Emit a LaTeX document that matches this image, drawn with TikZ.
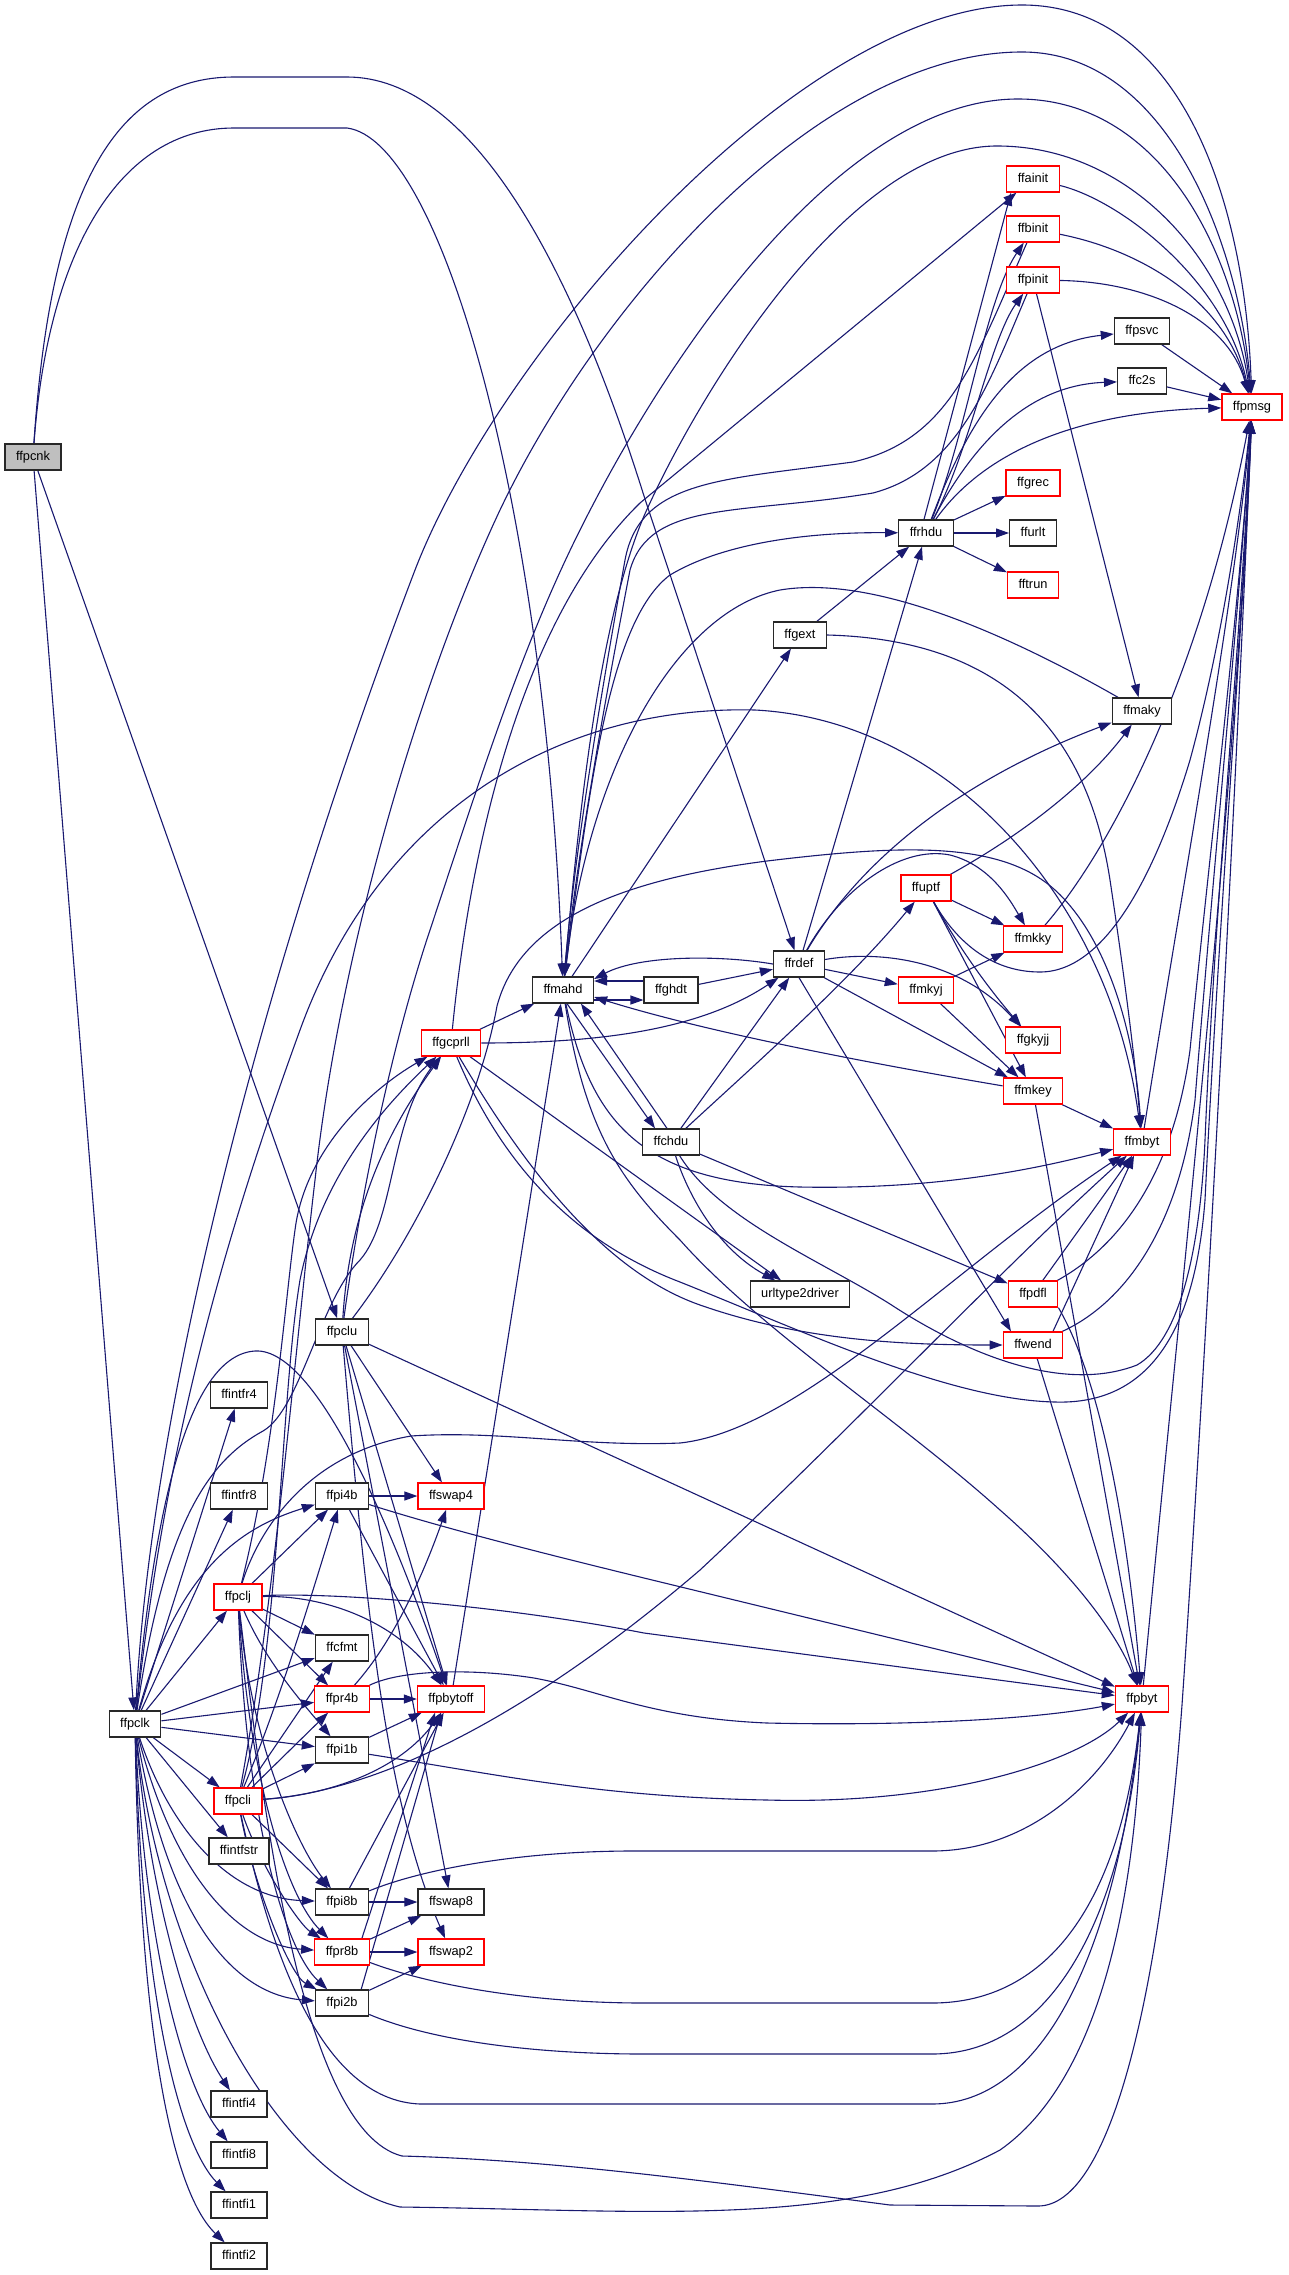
\documentclass[tikz,border=0pt]{standalone}
\usepackage{fontspec}
\newfontfamily\nodefont{Liberation Sans}
\usetikzlibrary{arrows.meta}
\pgfdeclarelayer{background}
\pgfsetlayers{background,main}
\definecolor{edgec}{RGB}{25,25,112}
\definecolor{nodeblack}{RGB}{40,40,40}
\definecolor{nodered}{RGB}{255,0,0}
\definecolor{rootgrey}{RGB}{191,191,191}
\tikzset{
  nb/.style={draw=nodeblack, line width=1.3pt, fill=white, rectangle, minimum height=26pt,
    inner xsep=11pt, inner ysep=0pt, text height=9.3pt, text depth=2.7pt,
    font={\nodefont\fontsize{12.8}{14}\selectfont}},
  nr/.style={nb, draw=nodered},
  e/.style={draw=edgec, line width=1.1pt, -{Triangle[length=13pt,width=9pt]}},
}
\begin{document}
\begin{tikzpicture}[x=1pt,y=-1pt]
\useasboundingbox (0,0) rectangle (1288,2275);
% ---------------- nodes
\node[nb,fill=rootgrey] (pcnk) at (33,457) {ffpcnk};
\node[nb] (pclk) at (135,1724) {ffpclk};
\node[nb] (intfr4) at (239,1395) {ffintfr4};
\node[nb] (intfr8) at (239,1496) {ffintfr8};
\node[nr] (pclj) at (238,1597) {ffpclj};
\node[nr] (pcli) at (238,1801) {ffpcli};
\node[nb] (intfstr) at (239,1851) {ffintfstr};
\node[nb] (intfi4) at (239,2104) {ffintfi4};
\node[nb] (intfi8) at (239,2155) {ffintfi8};
\node[nb] (intfi1) at (239,2205) {ffintfi1};
\node[nb] (intfi2) at (239,2256) {ffintfi2};
\node[nb] (pclu) at (342,1332) {ffpclu};
\node[nb] (pi4b) at (342,1496) {ffpi4b};
\node[nb] (cfmt) at (342,1648) {ffcfmt};
\node[nr] (pr4b) at (342,1699) {ffpr4b};
\node[nb] (pi1b) at (342,1750) {ffpi1b};
\node[nb] (pi8b) at (342,1902) {ffpi8b};
\node[nr] (pr8b) at (342,1952) {ffpr8b};
\node[nb] (pi2b) at (342,2003) {ffpi2b};
\node[nr] (gcprll) at (451,1043) {ffgcprll};
\node[nr] (swap4) at (451,1496) {ffswap4};
\node[nr] (pbytoff) at (451,1699) {ffpbytoff};
\node[nb] (swap8) at (451,1902) {ffswap8};
\node[nr] (swap2) at (451,1952) {ffswap2};
\node[nb] (mahd) at (563,990) {ffmahd};
\node[nb] (ghdt) at (671,990) {ffghdt};
\node[nb] (chdu) at (671,1142) {ffchdu};
\node[nb] (gext) at (800,635) {ffgext};
\node[nb] (rdef) at (799,964) {ffrdef};
\node[nb] (url2drv) at (800,1294) {urltype2driver};
\node[nb] (rhdu) at (926,533) {ffrhdu};
\node[nr] (uptf) at (926,888) {ffuptf};
\node[nr] (mkyj) at (926,990) {ffmkyj};
\node[nr] (ainit) at (1033,179) {ffainit};
\node[nr] (binit) at (1033,229) {ffbinit};
\node[nr] (pinit) at (1033,280) {ffpinit};
\node[nr] (grec) at (1033,483) {ffgrec};
\node[nb] (urlt) at (1033,533) {ffurlt};
\node[nr] (trun) at (1033,585) {fftrun};
\node[nr] (mkky) at (1033,939) {ffmkky};
\node[nr] (gkyjj) at (1033,1040) {ffgkyjj};
\node[nr] (mkey) at (1033,1091) {ffmkey};
\node[nr] (pdfl) at (1033,1294) {ffpdfl};
\node[nr] (wend) at (1033,1345) {ffwend};
\node[nb] (psvc) at (1142,331) {ffpsvc};
\node[nb] (c2s) at (1142,381) {ffc2s};
\node[nb] (maky) at (1142,711) {ffmaky};
\node[nr] (mbyt) at (1142,1142) {ffmbyt};
\node[nr] (pbyt) at (1142,1699) {ffpbyt};
\node[nr] (pmsg) at (1252,407) {ffpmsg};
% ---------------- edges
\begin{pgfonlayer}{background}
\fill[white] (0,0) rectangle (1288,2275);
% ffpcnk
\draw[e] (pcnk) .. controls (48,250) and (120,128) .. (234,128) -- (347,128) .. controls (440,140) and (545,500) .. (mahd);
\draw[e] (pcnk) .. controls (50,200) and (110,77) .. (234,77) -- (347,77) .. controls (470,77) and (570,260) .. (644,496) -- (rdef);
\draw[e] (pcnk) -- (pclu);
\draw[e] (pcnk) -- (pclk);
% ffpclk
\draw[e] (pclk) .. controls (150,1400) and (270,950) .. (415,570) .. controls (500,350) and (800,5) .. (1022,5) .. controls (1180,5) and (1245,200) .. (pmsg);
\draw[e] (pclk) -- (intfr4);
\draw[e] (pclk) -- (intfr8);
\draw[e] (pclk) -- (pclj);
\draw[e] (pclk) .. controls (180,1560) and (250,1525) .. (pi4b);
\draw[e] (pclk) -- (cfmt);
\draw[e] (pclk) -- (pr4b);
\draw[e] (pclk) -- (pi1b);
\draw[e] (pclk) -- (pcli);
\draw[e] (pclk) -- (intfstr);
\draw[e] (pclk) .. controls (170,1830) and (230,1898) .. (pi8b);
\draw[e] (pclk) .. controls (175,1880) and (240,1945) .. (pr8b);
\draw[e] (pclk) .. controls (170,1930) and (240,1995) .. (pi2b);
\draw[e] (pclk) .. controls (150,1900) and (190,2030) .. (intfi4);
\draw[e] (pclk) .. controls (145,1950) and (185,2090) .. (intfi8);
\draw[e] (pclk) .. controls (142,2000) and (180,2145) .. (intfi1);
\draw[e] (pclk) .. controls (140,2050) and (175,2195) .. (intfi2);
\draw[e] (pclk) .. controls (160,1960) and (280,2180) .. (400,2207) .. controls (650,2210) and (850,2230) .. (1000,2150) .. controls (1100,2080) and (1135,1900) .. (pbyt);
\draw[e] (pclk) .. controls (165,1450) and (220,1250) .. (300,1030) .. controls (380,810) and (560,705) .. (755,710) .. controls (950,720) and (1110,900) .. (mbyt);
\draw[e] (pclk) .. controls (165,1520) and (210,1460) .. (263,1431) .. controls (300,1410) and (320,1300) .. (360,1260) .. controls (395,1220) and (390,1120) .. (gcprll);
\draw[e] (pclk) .. controls (155,1500) and (190,1355) .. (255,1351) .. controls (320,1347) and (400,1550) .. (pbytoff);
% ffpclj
\draw[e] (pclj) -- (pi4b);
\draw[e] (pclj) -- (cfmt);
\draw[e] (pclj) -- (pr4b);
\draw[e] (pclj) .. controls (265,1660) and (300,1700) .. (pi1b);
\draw[e] (pclj) .. controls (252,1750) and (300,1850) .. (pi8b);
\draw[e] (pclj) .. controls (250,1790) and (290,1900) .. (pr8b);
\draw[e] (pclj) .. controls (246,1820) and (285,1950) .. (pi2b);
\draw[e] (pclj) .. controls (330,1595) and (400,1625) .. (pbytoff);
\draw[e] (pclj) .. controls (330,1592) and (500,1605) .. (644,1633) -- (pbyt);
\draw[e] (pclj) .. controls (255,1540) and (300,1455) .. (411,1436) .. controls (500,1430) and (580,1447) .. (680,1443) .. controls (800,1430) and (950,1270) .. (mbyt);
\draw[e] (pclj) .. controls (275,1450) and (285,1300) .. (295,1230) .. controls (305,1150) and (370,1090) .. (gcprll);
\draw[e] (pclj) .. controls (262,1800) and (300,2130) .. (402,2156) .. controls (550,2160) and (700,2180) .. (890,2205) -- (1038,2206) .. controls (1110,2206) and (1160,2000) .. (1182,1705) .. controls (1210,1300) and (1240,700) .. (pmsg);
% ffpcli
\draw[e] (pcli) .. controls (280,1700) and (310,1600) .. (pi4b);
\draw[e] (pcli) -- (cfmt);
\draw[e] (pcli) -- (pr4b);
\draw[e] (pcli) -- (pi1b);
\draw[e] (pcli) -- (pi8b);
\draw[e] (pcli) .. controls (262,1870) and (300,1925) .. (pr8b);
\draw[e] (pcli) .. controls (255,1890) and (290,1975) .. (pi2b);
\draw[e] (pcli) .. controls (330,1795) and (400,1770) .. (pbytoff);
\draw[e] (pcli) .. controls (400,1790) and (560,1690) .. (700,1570) .. controls (850,1430) and (1000,1270) .. (mbyt);
\draw[e] (pcli) .. controls (280,1650) and (280,1400) .. (300,1280) .. controls (320,1180) and (380,1110) .. (gcprll);
\draw[e] (pcli) .. controls (275,1600) and (295,1350) .. (315,1180) .. controls (340,950) and (420,680) .. (500,510) .. controls (600,300) and (820,52) .. (1022,52) .. controls (1170,52) and (1240,250) .. (pmsg);
\draw[e] (pcli) .. controls (270,1950) and (320,2100) .. (420,2104) -- (932,2104) .. controls (1040,2104) and (1115,1960) .. (pbyt);
% ffpclu
\draw[e] (pclu) -- (swap4);
\draw[e] (pclu) -- (pbytoff);
\draw[e] (pclu) -- (swap8);
\draw[e] (pclu) .. controls (365,1600) and (385,1800) .. (swap2);
\draw[e] (pclu) -- (pbyt);
\draw[e] (pclu) .. controls (420,1230) and (480,1100) .. (497,1006) .. controls (520,920) and (620,880) .. (767,861) .. controls (900,845) and (1000,840) .. (1055,890) .. controls (1110,940) and (1135,1040) .. (mbyt);
\draw[e] (pclu) .. controls (350,1200) and (395,1120) .. (gcprll);
\draw[e] (pclu) .. controls (360,1200) and (390,1050) .. (430,930) .. controls (480,780) and (520,650) .. (580,530) .. controls (680,330) and (850,99) .. (1018,99) .. controls (1160,99) and (1235,250) .. (pmsg);
% ffpi4b, ffpr4b, ffpi1b, ffpi8b, ffpr8b, ffpi2b
\draw[e] (pi4b) -- (swap4);
\draw[e] (pi4b) -- (pbytoff);
\draw[e] (pi4b) .. controls (450,1530) and (550,1555) .. (644,1578) -- (pbyt);
\draw[e] (pr4b) .. controls (395,1640) and (425,1570) .. (swap4);
\draw[e] (pr4b) -- (pbytoff);
\draw[e] (pr4b) .. controls (400,1670) and (470,1668) .. (534,1678) .. controls (600,1690) and (650,1718) .. (767,1723) .. controls (900,1726) and (1030,1720) .. (pbyt);
\draw[e] (pi1b) -- (pbytoff);
\draw[e] (pi1b) .. controls (500,1775) and (600,1797) .. (767,1800) .. controls (950,1805) and (1080,1760) .. (pbyt);
\draw[e] (pi8b) -- (swap8);
\draw[e] (pi8b) -- (pbytoff);
\draw[e] (pi8b) .. controls (420,1870) and (520,1850) .. (644,1851) -- (932,1851) .. controls (1030,1851) and (1100,1780) .. (pbyt);
\draw[e] (pr8b) -- (swap8);
\draw[e] (pr8b) -- (swap2);
\draw[e] ([xshift=-8pt]pr8b.north east) -- ([xshift=-16pt]pbytoff.south);
\draw[e] (pr8b) .. controls (430,1985) and (530,2003) .. (644,2003) -- (932,2003) .. controls (1050,2003) and (1120,1900) .. (pbyt);
\draw[e] (pi2b) -- (swap2);
\draw[e] ([xshift=-8pt]pi2b.north east) -- ([xshift=-10pt]pbytoff.south);
\draw[e] (pi2b) .. controls (430,2040) and (530,2054) .. (644,2054) -- (932,2054) .. controls (1060,2054) and (1125,1900) .. (pbyt);
% ffpbytoff
\draw[e] (pbytoff) -- (mahd);
% ffgcprll
\draw[e] (gcprll) -- (mahd);
\draw[e] (gcprll.east) .. controls (600,1043) and (700,1030) .. (rdef);
\draw[e] (gcprll) -- (url2drv);
\draw[e] (gcprll) .. controls (520,1160) and (600,1270) .. (700,1305) .. controls (800,1340) and (900,1345) .. (wend);
\draw[e] (gcprll) .. controls (500,1160) and (570,1240) .. (680,1282) .. controls (800,1330) and (950,1400) .. (1055,1402) .. controls (1150,1405) and (1195,1330) .. (1205,1200) .. controls (1220,900) and (1245,600) .. (pmsg);
\draw[e] (gcprll) .. controls (470,850) and (520,620) .. (640,503) -- (ainit);
% ffmahd
\draw[e] (mahd) .. controls (580,800) and (600,620) .. (644,516) .. controls (700,390) and (850,146) .. (997,146) .. controls (1130,146) and (1230,260) .. (pmsg);
\draw[e] (mahd) .. controls (590,780) and (610,620) .. (670,575) .. controls (720,545) and (800,532) .. (rhdu);
\draw[e] (mahd) -- (gext);
\draw[e] ([yshift=-10pt]mahd.east) -- ([yshift=-10pt]ghdt.west);
\draw[e] ([xshift=4pt]mahd.south) -- ([xshift=-16pt]chdu.north);
\draw[e] (mahd) .. controls (590,1120) and (640,1183) .. (800,1187) .. controls (950,1190) and (1050,1165) .. (mbyt);
\draw[e] (mahd) .. controls (585,1130) and (620,1180) .. (680,1240) .. controls (760,1330) and (900,1420) .. (1000,1510) .. controls (1080,1580) and (1120,1640) .. (pbyt);
% edges back into ffmahd
\draw[e] (binit) .. controls (975,360) and (950,440) .. (853,462) .. controls (720,480) and (640,480) .. (625,560) .. controls (600,700) and (575,850) .. (mahd);
\draw[e] (pinit) .. controls (990,380) and (960,470) .. (873,493) .. controls (740,515) and (650,500) .. (630,570) .. controls (605,700) and (578,850) .. (mahd);
\draw[e] (maky) .. controls (1000,630) and (870,575) .. (780,590) .. controls (680,610) and (590,760) .. (mahd);
\draw[e] ([yshift=9pt]ghdt.west) -- ([yshift=9pt]mahd.east);
\draw[e] ([xshift=-4pt]chdu.north) -- ([xshift=18pt]mahd.south);
\draw[e] (rdef.west) .. controls (720,955) and (640,955) .. ([yshift=11pt]mahd.east);
\draw[e] (mkey) .. controls (850,1060) and (700,1030) .. ([yshift=-7pt]mahd.east);
% ffghdt, ffchdu
\draw[e] (ghdt) -- (rdef);
\draw[e] (chdu) -- (rdef);
\draw[e] (chdu) .. controls (760,1060) and (850,980) .. (uptf);
\draw[e] (chdu) -- (pdfl);
\draw[e] (chdu) .. controls (690,1200) and (720,1250) .. (url2drv);
\draw[e] (chdu) .. controls (720,1220) and (820,1260) .. (890,1304) .. controls (960,1350) and (1060,1395) .. (1137,1365) .. controls (1180,1340) and (1200,1250) .. (1205,1140) .. controls (1215,900) and (1240,650) .. (pmsg);
% ffrdef
\draw[e] (rdef) -- (rhdu);
\draw[e] (rdef) .. controls (860,860) and (960,780) .. (maky);
\draw[e] (rdef) .. controls (840,890) and (900,845) .. (950,855) .. controls (990,865) and (1010,900) .. (mkky);
\draw[e] (rdef) .. controls (880,950) and (960,960) .. (gkyjj);
\draw[e] (rdef) -- (mkyj);
\draw[e] (rdef) -- (mkey);
\draw[e] (rdef.south) -- ([xshift=-22pt]wend.north);
% ffuptf, ffmkyj, ffmkky, ffmkey
\draw[e] (uptf) .. controls (1030,830) and (1090,780) .. (maky);
\draw[e] (uptf) -- (mkky);
\draw[e] (uptf) .. controls (960,950) and (990,990) .. (gkyjj);
\draw[e] (uptf) -- (mkey);
\draw[e] (uptf) .. controls (955,940) and (990,972) .. (1040,972) .. controls (1110,972) and (1160,860) .. (1190,760) .. controls (1220,650) and (1240,520) .. (pmsg);
\draw[e] (mkyj) -- (mkky);
\draw[e] (mkyj) -- (mkey);
\draw[e] (mkky) .. controls (1110,850) and (1200,680) .. (pmsg);
\draw[e] (mkey) -- (mbyt);
\draw[e] (mkey) -- (pbyt);
% ffgext
\draw[e] (gext) -- (rhdu);
\draw[e] (gext.east) .. controls (1020,640) and (1090,750) .. (1110,880) .. controls (1125,980) and (1135,1060) .. (mbyt);
% ffrhdu
\draw[e] ([xshift=-2pt]rhdu.north) -- ([xshift=-22pt]ainit.south);
\draw[e] (rhdu) .. controls (965,440) and (985,300) .. (binit);
\draw[e] (rhdu) .. controls (970,450) and (990,340) .. (pinit);
\draw[e] (rhdu) .. controls (965,430) and (1010,345) .. (psvc);
\draw[e] (rhdu) .. controls (975,440) and (1030,385) .. (c2s);
\draw[e] (rhdu) .. controls (985,450) and (1080,412) .. (pmsg);
\draw[e] (rhdu) -- (grec);
\draw[e] (rhdu) -- (urlt);
\draw[e] (rhdu) -- (trun);
% init functions, ffpsvc, ffc2s
\draw[e] (ainit) .. controls (1120,200) and (1225,280) .. (pmsg);
\draw[e] (binit) .. controls (1140,250) and (1225,300) .. (pmsg);
\draw[e] (pinit) .. controls (1150,282) and (1228,320) .. (pmsg);
\draw[e] (pinit) -- (maky);
\draw[e] (psvc) -- (pmsg);
\draw[e] (c2s) -- (pmsg);
% ffmbyt, ffpbyt, ffpdfl, ffwend
\draw[e] (mbyt) .. controls (1180,900) and (1235,600) .. (pmsg);
\draw[e] (pbyt) .. controls (1180,1300) and (1235,800) .. (pmsg);
\draw[e] (pdfl) -- (mbyt);
\draw[e] (pdfl.south east) .. controls (1095,1370) and (1125,1500) .. (pbyt);
\draw[e] (pdfl) .. controls (1130,1240) and (1175,1160) .. (1190,1050) .. controls (1210,850) and (1240,600) .. (pmsg);
\draw[e] ([xshift=20pt]wend.north) -- ([xshift=-8pt]mbyt.south);
\draw[e] (wend) -- (pbyt);
\draw[e] (wend) .. controls (1130,1300) and (1180,1220) .. (1195,1100) .. controls (1215,850) and (1240,600) .. (pmsg);
\end{pgfonlayer}
\end{tikzpicture}
\end{document}
